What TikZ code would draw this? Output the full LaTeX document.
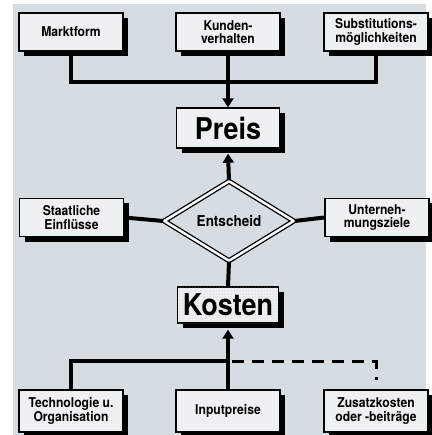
\documentclass[tikz,border=0pt]{standalone}
\usepackage{fontspec}
\setmainfont{TeX Gyre Heros}[FakeStretch=0.9]
\usepackage{tikz}
\usetikzlibrary{arrows.meta,shapes.geometric,shadows,patterns}
\definecolor{paper}{RGB}{214, 221, 226}
\definecolor{boxfill}{RGB}{238, 241, 242}

\tikzset{
  factor/.style={draw=black, line width=1.4pt, fill=boxfill, align=center,
                 minimum width=104pt, minimum height=38pt, inner sep=0pt,
                 font=\fontsize{13.5}{13.5}\selectfont\bfseries,
                 drop shadow={shadow xshift=5pt, shadow yshift=-5pt, fill=black, opacity=1}},
  mainbox/.style={factor, font=\fontsize{30}{32}\selectfont\bfseries},
  conn/.style={line width=4pt},
  flow/.style={conn, -{Triangle[width=11pt,length=9pt]}},
  dashline/.style={line width=3pt, dash pattern=on 12pt off 8pt}
}

\begin{document}
\begin{tikzpicture}[x=1pt, y=-1pt]
            % Frame & paper
            \useasboundingbox (0,0) rectangle (431,435);
            \fill[paper] (13,4) rectangle (426,435);
            % Top row
            \node[factor] (markt)  at ( 71.0, 32.0) {Marktform};
            \node[factor] (kunden) at (228.0, 32.0) {Kunden-\\verhalten};
            \node[factor] (subst)  at (376.0, 32.0) {Substitutions-\\möglichkeiten};
            % Preis
            \node[mainbox, minimum width=103pt, minimum height=40pt] (preis) at (228.0,128.0) {Preis};
            % Middle row
            \node[draw, diamond, double=white, double distance=2.5pt, line width=1.3pt,
                  fill=paper, minimum width=130pt, minimum height=80pt, inner sep=0pt,
                  font=\fontsize{15}{15}\selectfont\bfseries] (entscheid) at (229.0,221.0) {Entscheid};
            \node[factor] (staat)  at ( 71.5,217.5) {Staatliche\\Einflüsse};
            \node[factor] (ziele)  at (377.0,217.5) {Unterneh-\\mungsziele};
            % Kosten
            \node[mainbox, minimum width=101pt, minimum height=36pt,
                  postaction={pattern=dots, pattern color=gray!55}] (kosten) at (228.0,305.0) {Kosten};
            % Bottom row
            \node[factor, minimum height=42pt] (techno) at ( 71.0,411.0) {Technologie u.\\Organisation};
            \node[factor, minimum height=42pt] (input)  at (228.0,411.0) {Inputpreise};
            \node[factor, minimum height=42pt] (zusatz) at (376.0,411.0) {Zusatzkosten\\oder -beiträge};
            % Connectors above
            \coordinate (jtop) at (228.0, 82.0);
            \draw[conn] (markt.south) |- (jtop) -| (subst.south);
            \draw[flow] (kunden.south) -- (preis.north);
            \draw[flow] (entscheid.north) -- ([yshift=-5pt]preis.south);
            \draw[conn] (staat.east) -- (entscheid.west);
            \draw[conn] (entscheid.east) -- (ziele.west);
            \draw[conn] (entscheid.south) -- (kosten.north);
            % Connectors below
            \coordinate (jbot) at (228.0,361.0);
            \coordinate (zend) at ([yshift=9pt]zusatz.north);
            \draw[conn] (techno.north) |- (jbot);
            \draw[flow] (input.north) -- ([yshift=-6pt]kosten.south);
            \draw[dashline] ([xshift=4pt]jbot) -| (zend);
        \end{tikzpicture}
\end{document}
